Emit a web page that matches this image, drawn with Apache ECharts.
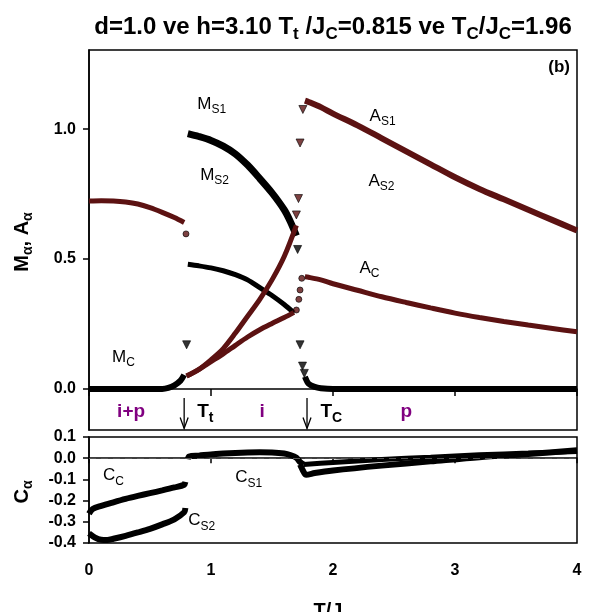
<!DOCTYPE html>
<html>
<head>
<meta charset="utf-8">
<script src="https://cdn.jsdelivr.net/npm/echarts@6/dist/echarts.min.js"></script>
<style>
html,body{margin:0;padding:0;background:#fff;}
#chart{width:609px;height:612px;}
</style>
</head>
<body>
<div id="chart"></div>
<script>
var myChart = echarts.init(document.getElementById('chart'));

// eksen degerleri
var yTopTicks = [0, 0.5, 1.0];

// ust panel: M ve A
var mcLow = [[0,0],[0.2,0],[0.4,0],[0.6,0],[0.65,0.004],[0.7,0.014],[0.75,0.032],[0.78,0.054]];
var mcHigh = [[1.77,0.047],[1.8,0.02],[1.85,0.008],[1.9,0.003],[2.0,0],[2.5,0],[3.0,0],[3.5,0],[4.0,0]];
var aLowT = [[0,0.724],[0.1,0.725],[0.2,0.724],[0.3,0.72],[0.4,0.712],[0.5,0.698],[0.6,0.68],[0.7,0.66],[0.78,0.641]];
var ms1 = [[0.81,0.983],[0.9,0.972],[1.0,0.957],[1.1,0.935],[1.2,0.905],[1.3,0.862],[1.4,0.81],[1.5,0.755],[1.6,0.69],[1.65,0.645],[1.7,0.59]];
var mLow = [[0.81,0.48],[0.9,0.474],[1.0,0.466],[1.1,0.455],[1.2,0.44],[1.3,0.42],[1.4,0.39],[1.5,0.36],[1.6,0.325],[1.68,0.293]];
var aRiseHigh = [[0.8,0.05],[0.9,0.075],[1.0,0.112],[1.1,0.155],[1.2,0.215],[1.3,0.28],[1.4,0.345],[1.5,0.42],[1.6,0.51],[1.7,0.63]];
var aRiseLow = [[0.8,0.05],[0.9,0.075],[1.0,0.105],[1.1,0.135],[1.2,0.168],[1.3,0.2],[1.4,0.228],[1.5,0.252],[1.6,0.275],[1.68,0.295]];
var as1 = [[1.77,1.11],[1.8,1.105],[1.9,1.085],[2.0,1.06],[2.2,1.015],[2.4,0.965],[2.6,0.915],[2.8,0.865],[3.0,0.815],[3.2,0.77],[3.4,0.73],[3.6,0.69],[3.8,0.65],[4.0,0.61]];
var ac = [[1.77,0.432],[1.8,0.43],[1.9,0.42],[2.0,0.405],[2.2,0.38],[2.4,0.355],[2.6,0.333],[2.8,0.312],[3.0,0.292],[3.2,0.275],[3.4,0.26],[3.6,0.246],[3.8,0.233],[4.0,0.22]];
var brownTri = [[1.70,0.67],[1.717,0.733],[1.73,0.947],[1.753,1.076]];
var brownDot = [[0.795,0.597],[1.70,0.304],[1.72,0.345],[1.73,0.381],[1.744,0.426]];
var blackTri = [[0.80,0.17],[1.71,0.537],[1.73,0.17],[1.75,0.088],[1.765,0.06]];

// alt panel: C
var cc = [[0,-0.262],[0.03,-0.24],[0.1,-0.225],[0.2,-0.208],[0.3,-0.192],[0.4,-0.178],[0.5,-0.165],[0.6,-0.152],[0.7,-0.138],[0.78,-0.125],[0.79,-0.112]];
var cs2 = [[0,-0.355],[0.05,-0.375],[0.1,-0.385],[0.15,-0.386],[0.2,-0.38],[0.3,-0.366],[0.4,-0.35],[0.5,-0.333],[0.6,-0.312],[0.7,-0.288],[0.78,-0.255],[0.79,-0.235]];
var cs1 = [[0.81,-0.005],[0.82,0.008],[0.9,0.012],[1.0,0.018],[1.1,0.022],[1.2,0.025],[1.3,0.027],[1.4,0.028],[1.5,0.027],[1.6,0.022],[1.65,0.015],[1.7,0.002],[1.73,-0.018],[1.76,-0.03]];
var cLowBranch = [[1.73,-0.03],[1.76,-0.065],[1.78,-0.078],[1.85,-0.07],[2.0,-0.058],[2.4,-0.035],[2.8,-0.015],[3.2,0.005],[3.6,0.02],[4.0,0.037]];
var cUpBranch = [[1.76,-0.03],[2.0,-0.02],[2.4,-0.006],[2.8,0.005],[3.2,0.016],[3.6,0.024],[4.0,0.032]];

var BROWN = '#5c1212', FONT = 'Arial, "Liberation Sans", sans-serif', PURPLE = '#800080';

function fmt(v){ return Math.abs(v) < 1e-9 ? '0.0' : v.toFixed(1); }

function curve(data, color, width, g){
    return {type:'line', data:data, xAxisIndex:g, yAxisIndex:g, smooth:0.3, showSymbol:false,
        silent:true, lineStyle:{color:color, width:width}, z:3};
}
function dots(data, color, symbol, size, g){
    return {type:'scatter', data:data, xAxisIndex:g, yAxisIndex:g, symbol:symbol,
        symbolRotate: symbol === 'triangle' ? 180 : 0, symbolSize:size, silent:true,
        itemStyle:{color:color, borderColor:'#000', borderWidth:0.8}, z:4};
}

var axisLine = {lineStyle:{color:'#000', width:1.5}};
var tickLabel = {fontSize:16, fontWeight:'bold', color:'#000', fontFamily:FONT};

var c2 = curve(cc, '#000', 6, 1);
c2.markLine = {silent:true, symbol:'none', label:{show:false},
    lineStyle:{type:[7,5], color:'#555', width:1}, data:[{yAxis:0}]};

myChart.setOption({
    animation:false,
    grid:[
        {left:89, width:488, top:50, height:380, show:true, borderColor:'#000', borderWidth:1.5},
        {left:89, width:488, top:437, height:106, show:true, borderColor:'#000', borderWidth:1.5}
    ],
    xAxis:[
        {gridIndex:0, type:'value', min:0, max:4, interval:1, axisLine:axisLine,
            axisTick:{length:7, lineStyle:{color:'#000', width:1.5}}, axisLabel:{show:false}, splitLine:{show:false}},
        {gridIndex:1, type:'value', min:0, max:4, interval:1, axisLine:axisLine,
            axisTick:{length:5, lineStyle:{color:'#000', width:1.5}},
            axisLabel:Object.assign({margin:20}, tickLabel), splitLine:{show:false}}
    ],
    yAxis:[
        {gridIndex:0, type:'value', min:-0.158, max:1.305, axisLine:axisLine,
            axisTick:{length:6, customValues:yTopTicks, lineStyle:{color:'#000', width:1.5}},
            axisLabel:Object.assign({margin:13, customValues:yTopTicks, formatter:fmt}, tickLabel),
            splitLine:{show:false}},
        {gridIndex:1, type:'value', min:-0.4, max:0.1, interval:0.1, axisLine:axisLine,
            axisTick:{length:6, lineStyle:{color:'#000', width:1.5}},
            axisLabel:Object.assign({margin:13, formatter:fmt}, tickLabel),
            splitLine:{show:false}}
    ],
    series:[
        curve(mcLow, '#000', 6, 0),
        curve(mcHigh, '#000', 6, 0),
        curve(aLowT, BROWN, 5, 0),
        curve(ms1, '#000', 7, 0),
        curve(mLow, '#000', 5, 0),
        curve(aRiseHigh, BROWN, 5, 0),
        curve(aRiseLow, BROWN, 5, 0),
        curve(as1, BROWN, 6, 0),
        curve(ac, BROWN, 5, 0),
        dots(brownTri, BROWN, 'triangle', 8, 0),
        dots(brownDot, BROWN, 'circle', 6, 0),
        dots(blackTri, '#000', 'triangle', 8, 0),
        c2,
        curve(cs2, '#000', 6, 1),
        curve(cs1, '#000', 6, 1),
        curve(cLowBranch, '#000', 6, 1),
        curve(cUpBranch, '#000', 5, 1)
    ]
});

// etiketler ve oklar
var curveLabels = [
    ['M','S1',0,[0.887,1.097]], ['M','S2',0,[0.911,0.824]], ['M','C',0,[0.189,0.123]],
    ['A','S1',0,[2.30,1.051]], ['A','S2',0,[2.29,0.801]], ['A','C',0,[2.217,0.466]],
    ['C','C',1,[0.115,-0.082]], ['C','S1',1,[1.199,-0.091]], ['C','S2',1,[0.813,-0.294]]
];
var phaseLabels = [['i+p',0.345], ['i',1.42], ['p',2.60]];
var tempLabels = [['t',0.887], ['C',1.897]];
var arrowsT = [0.78, 1.787];

var lblRich = {
    n:{fontSize:17, fontFamily:FONT, color:'#222'},
    s:{fontSize:12, fontFamily:FONT, color:'#222', padding:[12,0,0,0]}
};
var boldRich = {
    n:{fontSize:19, fontWeight:'bold', fontFamily:FONT, color:'#000'},
    s:{fontSize:14, fontWeight:'bold', fontFamily:FONT, color:'#000', padding:[12,0,0,0]}
};

var g = [];
curveLabels.forEach(function(l){
    var p = myChart.convertToPixel({gridIndex:l[2]}, l[3]);
    g.push({type:'text', x:p[0], y:p[1], silent:true,
        style:{text:'{n|'+l[0]+'}{s|'+l[1]+'}', rich:lblRich, align:'left', verticalAlign:'middle'}});
});
phaseLabels.forEach(function(l){
    var p = myChart.convertToPixel({gridIndex:0}, [l[1], -0.089]);
    g.push({type:'text', x:p[0], y:p[1], silent:true,
        style:{text:l[0], fontSize:19, fontWeight:'bold', fontFamily:FONT, fill:PURPLE, align:'center', verticalAlign:'middle'}});
});
tempLabels.forEach(function(l){
    var p = myChart.convertToPixel({gridIndex:0}, [l[1], -0.089]);
    g.push({type:'text', x:p[0], y:p[1], silent:true,
        style:{text:'{n|T}{s|'+l[0]+'}', rich:boldRich, align:'left', verticalAlign:'middle'}});
});
arrowsT.forEach(function(t){
    var a = myChart.convertToPixel({gridIndex:0}, [t, -0.035]);
    var b = myChart.convertToPixel({gridIndex:0}, [t, -0.152]);
    g.push({type:'line', silent:true, shape:{x1:a[0], y1:a[1], x2:b[0], y2:b[1]}, style:{stroke:'#000', lineWidth:1.3}});
    g.push({type:'polyline', silent:true, shape:{points:[[b[0]-4, b[1]-11],[b[0], b[1]],[b[0]+4, b[1]-11]]},
        style:{stroke:'#000', fill:null, lineWidth:1.3}});
});

// baslik ve eksen adlari
g.push({type:'text', x:333, y:27, silent:true, style:{
    text:'{m|d=1.0 ve h=3.10 T}{s|t}{m| /J}{s|C}{m|=0.815 ve T}{s|C}{m|/J}{s|C}{m|=1.96}',
    align:'center', verticalAlign:'middle',
    rich:{m:{fontSize:24, fontWeight:'bold', fontFamily:FONT, color:'#f51010'},
          s:{fontSize:17, fontWeight:'bold', fontFamily:FONT, color:'#f51010', padding:[14,0,0,0]}}
}});
g.push({type:'text', x:333, y:597, silent:true, style:{
    text:'{m|T/J}{s|C}', align:'center', verticalAlign:'top',
    rich:{m:{fontSize:20, fontWeight:'bold', fontFamily:FONT, color:'#000'},
          s:{fontSize:14, fontWeight:'bold', fontFamily:FONT, color:'#000', padding:[14,0,0,0]}}
}});
var nameRich = {m:{fontSize:20, fontWeight:'bold', fontFamily:FONT, color:'#000'},
    s:{fontSize:14, fontWeight:'bold', fontFamily:FONT, color:'#000', padding:[12,0,0,0]}};
g.push({type:'text', x:22, y:242, rotation:Math.PI/2, silent:true, style:{
    text:'{m|M}{s|\u03b1}{m|, A}{s|\u03b1}', align:'center', verticalAlign:'middle', rich:nameRich}});
g.push({type:'text', x:22, y:492, rotation:Math.PI/2, silent:true, style:{
    text:'{m|C}{s|\u03b1}', align:'center', verticalAlign:'middle', rich:nameRich}});
g.push({type:'text', x:570, y:67, silent:true, style:{
    text:'(b)', fontSize:17, fontWeight:'bold', fontFamily:FONT, fill:'#000', align:'right', verticalAlign:'middle'}});

myChart.setOption({graphic:g});

window.onresize = function(){
    myChart.resize();
};
</script>
</body>
</html>
